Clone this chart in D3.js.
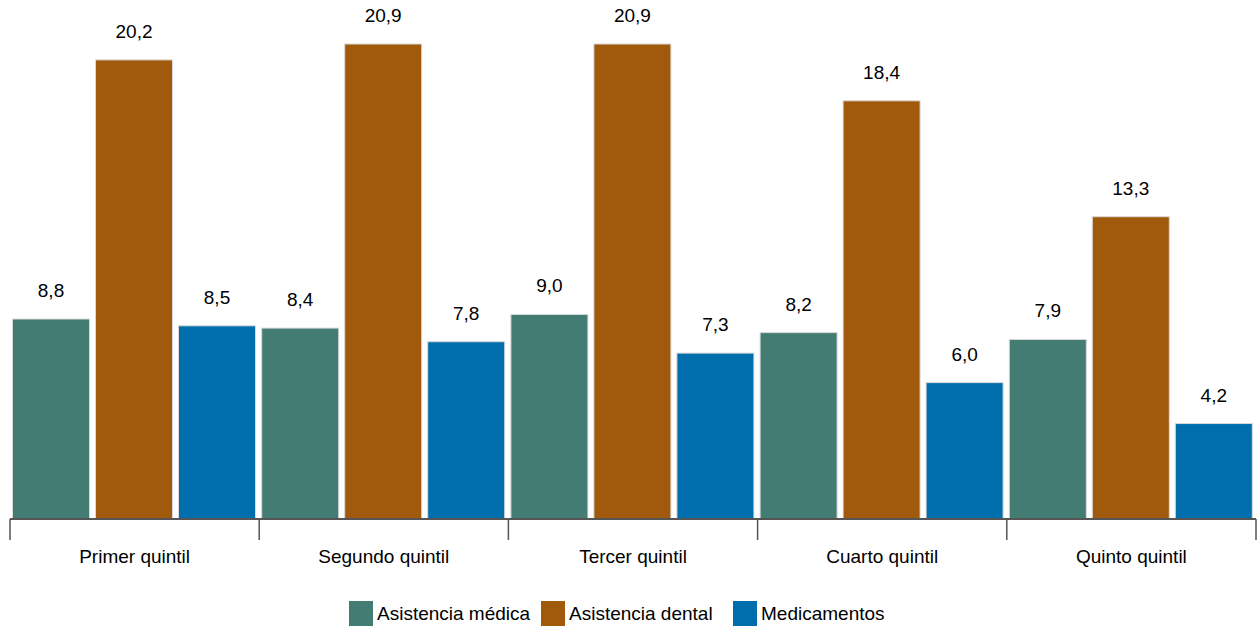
<!DOCTYPE html>
<html><head><meta charset="utf-8">
<script src="https://cdn.jsdelivr.net/npm/d3@7"></script>
<style>body{margin:0;background:#fff}svg{display:block;font-family:"Liberation Sans",Arial,sans-serif}</style>
</head><body><svg id="c" width="1257" height="627"></svg>
<script>
const categories = ["Primer quintil","Segundo quintil","Tercer quintil","Cuarto quintil","Quinto quintil"];
const seriesNames = ["Asistencia médica","Asistencia dental","Medicamentos"];
const asistenciaMedica = [8.8,8.4,9.0,8.2,7.9];
const asistenciaDental = [20.2,20.9,20.9,18.4,13.3];
const medicamentos = [8.5,7.8,7.3,6.0,4.2];
const colors = ["#437C72","#A15A0B","#006EAD"];
const seriesValues = [asistenciaMedica, asistenciaDental, medicamentos];
const FS = 19;

const svg = d3.select("#c");
const x0 = d3.scaleBand().domain(categories).range([10,1256]).paddingInner(0).paddingOuter(0);
const x1 = d3.scaleBand().domain(seriesNames).range([2.5, 245.5]).paddingInner(6/83).paddingOuter(0);
const y = d3.scaleLinear().domain([0,20.9]).range([519,44]);

const fmt = v => d3.format(".1f")(v).replace(".",",");

categories.forEach((c,i)=>{
  const g = svg.append("g").attr("transform",`translate(${x0(c)},0)`);
  seriesNames.forEach((s,j)=>{
    const v = seriesValues[j][i];
    g.append("rect").attr("x",x1(s)).attr("y",y(v)).attr("width",x1.bandwidth()).attr("height",y(0)-y(v))
      .attr("fill",colors[j]).attr("stroke","#d9d9d9").attr("stroke-width",1);
    g.append("text").attr("x",x1(s)+x1.bandwidth()/2).attr("y",y(v)-22).attr("text-anchor","middle")
      .attr("font-size",FS).attr("fill","#000").text(fmt(v));
  });
});

// axis
const ax = svg.append("g").attr("transform","translate(0,519)");
ax.append("line").attr("x1",10).attr("x2",1256).attr("y1",0).attr("y2",0).attr("stroke","#555").attr("stroke-width",2);
const tickXs = categories.map(c=>x0(c)).concat([x0.range()[1]]);
tickXs.forEach(t=>{
  ax.append("line").attr("x1",t).attr("x2",t).attr("y1",0).attr("y2",21).attr("stroke","#555").attr("stroke-width",1.5);
});
categories.forEach(c=>{
  ax.append("text").attr("x",x0(c)+x0.bandwidth()/2).attr("y",44).attr("text-anchor","middle")
    .attr("font-size",FS).attr("fill","#000").text(c);
});

// legend
const legX = [349,541,733];
const leg = svg.append("g");
seriesNames.forEach((s,j)=>{
  leg.append("rect").attr("x",legX[j]).attr("y",601).attr("width",24).attr("height",25).attr("fill",colors[j]);
  leg.append("text").attr("x",legX[j]+28).attr("y",620).attr("font-size",FS).attr("fill","#000").text(s);
});
</script></body></html>
